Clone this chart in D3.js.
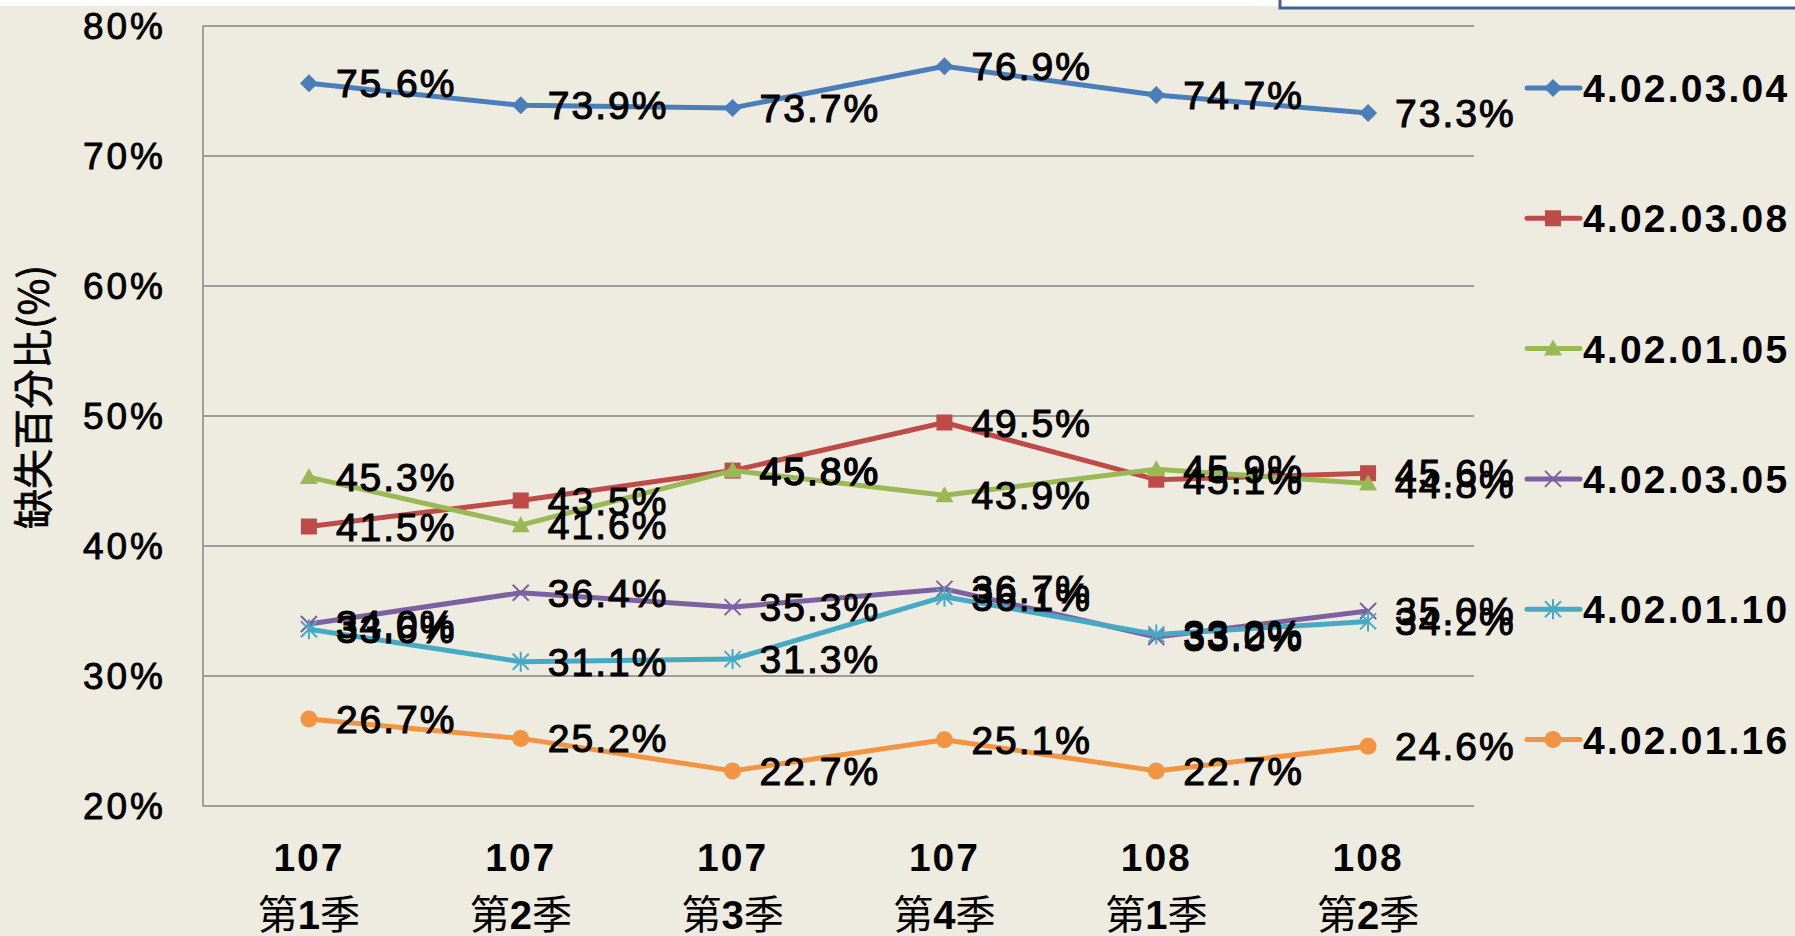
<!DOCTYPE html>
<html>
<head>
<meta charset="utf-8">
<script src="https://cdn.jsdelivr.net/npm/d3@7"></script>
<style>
  html, body { margin: 0; padding: 0; background: #fff; }
  svg { display: block; }
</style>
</head>
<body>
<div id="chart"></div>
<script>
// data
var quarters = [["107", "第", "1", "季"], ["107", "第", "2", "季"], ["107", "第", "3", "季"],
                ["107", "第", "4", "季"], ["108", "第", "1", "季"], ["108", "第", "2", "季"]];
var seriesNames = ["4.02.03.04", "4.02.03.08", "4.02.01.05", "4.02.03.05", "4.02.01.10", "4.02.01.16"];
var s0 = [75.6, 73.9, 73.7, 76.9, 74.7, 73.3];
var s1 = [41.5, 43.5, 45.8, 49.5, 45.1, 45.6];
var s2 = [45.3, 41.6, 45.8, 43.9, 45.9, 44.8];
var s3 = [34.0, 36.4, 35.3, 36.7, 33.0, 35.0];
var s4 = [33.6, 31.1, 31.3, 36.1, 33.2, 34.2];
var s5 = [26.7, 25.2, 22.7, 25.1, 22.7, 24.6];
var yTicks = [20, 30, 40, 50, 60, 70, 80];

(function(){

  var W = 1795, H = 936;
  var colors = ["#4A7EBB", "#BE4B48", "#98B954", "#7D60A0", "#46AAC5", "#F39443"];
  var shapes = ["diamond", "square", "triangle", "x", "star", "circle"];
  var allSeries = [s0, s1, s2, s3, s4, s5];
  var latin = "'Liberation Sans', Arial, sans-serif";
  var cjk = "'Noto Sans CJK TC', 'Noto Sans CJK SC', sans-serif";

  var svg = d3.select("#chart").append("svg")
      .attr("width", W).attr("height", H);

  svg.append("rect").attr("width", W).attr("height", H).attr("fill", "#fff");
  svg.append("rect").attr("x", 0).attr("y", 6).attr("width", W).attr("height", H - 6)
      .attr("fill", "#EEECE1");
  // box peeking in at the top right
  svg.append("rect").attr("x", 1280).attr("y", -10).attr("width", 600).attr("height", 18)
      .attr("fill", "#fff").attr("stroke", "#3E6397").attr("stroke-width", 3);

  var x = d3.scaleBand().domain(d3.range(quarters.length)).range([203, 1474]);
  var y = d3.scaleLinear().domain([20, 80]).range([806, 26]);
  var cx = function(i){ return x(i) + x.bandwidth() / 2; };

  // gridlines
  svg.append("g")
    .selectAll("line").data(yTicks).enter().append("line")
      .attr("x1", 203).attr("x2", 1474)
      .attr("y1", function(d){ return y(d); }).attr("y2", function(d){ return y(d); })
      .attr("stroke", "#A09E98").attr("stroke-width", 2);

  svg.append("line").attr("x1", 203).attr("x2", 203)
      .attr("y1", y(80)).attr("y2", y(20))
      .attr("stroke", "#A09E98").attr("stroke-width", 2);

  // y tick labels
  svg.append("g")
    .selectAll("text").data(yTicks).enter().append("text")
      .attr("x", 166).attr("y", function(d){ return y(d) + 13; })
      .attr("text-anchor", "end")
      .attr("font-family", latin).attr("font-size", "37px").attr("fill", "#000")
      .attr("letter-spacing", "3px")
      .attr("stroke", "#000").attr("stroke-width", 0.9)
      .text(function(d){ return d + "%"; });

  // y axis title
  svg.append("text")
      .attr("transform", "translate(48,397) rotate(-90)")
      .attr("text-anchor", "middle")
      .attr("font-family", cjk).attr("font-size", "40px").attr("fill", "#000")
      .attr("stroke", "#000").attr("stroke-width", 0.8)
      .text("缺失百分比(%)");

  // x labels
  var xl = svg.append("g").selectAll("g").data(quarters).enter().append("g");
  xl.append("text")
      .attr("x", function(d, i){ return cx(i); }).attr("y", 871)
      .attr("text-anchor", "middle")
      .attr("font-family", latin).attr("font-weight", "bold").attr("font-size", "39px")
      .attr("letter-spacing", "2px")
      .text(function(d){ return d[0]; });
  var t2 = xl.append("text")
      .attr("x", function(d, i){ return cx(i); }).attr("y", 929)
      .attr("text-anchor", "middle").attr("font-size", "40px");
  t2.append("tspan").attr("font-family", cjk).text(function(d){ return d[1]; });
  t2.append("tspan").attr("font-family", latin).attr("font-weight", "bold").text(function(d){ return d[2]; });
  t2.append("tspan").attr("font-family", cjk).text(function(d){ return d[3]; });

  function drawMarker(g, shape, color) {
    if (shape === "diamond") {
      g.append("path").attr("d", "M0,-9L9,0L0,9L-9,0Z").attr("fill", color);
    } else if (shape === "square") {
      g.append("rect").attr("x", -8).attr("y", -8).attr("width", 16).attr("height", 16).attr("fill", color);
    } else if (shape === "triangle") {
      g.append("path").attr("d", "M0,-9L9,7L-9,7Z").attr("fill", color);
    } else if (shape === "x") {
      g.append("path").attr("d", "M-8,-8L8,8M-8,8L8,-8").attr("stroke", color).attr("stroke-width", 2);
    } else if (shape === "star") {
      g.append("path").attr("d", "M-8,-8L8,8M-8,8L8,-8M0,-10L0,10")
        .attr("stroke", color).attr("stroke-width", 2);
    } else {
      g.append("circle").attr("r", 8.5).attr("fill", color);
    }
  }

  var line = d3.line().x(function(d, i){ return cx(i); }).y(function(d){ return y(d); });

  var plot = svg.append("g");
  allSeries.forEach(function(vals, k){
    plot.append("path").datum(vals)
      .attr("d", line).attr("fill", "none")
      .attr("stroke", colors[k]).attr("stroke-width", 5).attr("stroke-linejoin", "round");
    vals.forEach(function(v, i){
      var g = plot.append("g").attr("transform", "translate(" + cx(i) + "," + y(v) + ")");
      drawMarker(g, shapes[k], colors[k]);
    });
  });

  // data labels on top of everything
  var labels = svg.append("g");
  allSeries.forEach(function(vals){
    labels.selectAll(null).data(vals).enter().append("text")
      .attr("x", function(d, i){ return cx(i) + 27; })
      .attr("y", function(d){ return y(d) + 14; })
      .attr("font-family", latin).attr("font-size", "39px").attr("fill", "#000")
      .attr("letter-spacing", "2px")
      .attr("stroke", "#000").attr("stroke-width", 1.1)
      .text(function(d){ return d.toFixed(1) + "%"; });
  });

  // legend
  var leg = svg.append("g").selectAll("g").data(seriesNames).enter().append("g")
      .attr("transform", function(d, i){ return "translate(0," + (88 + i * 130.3) + ")"; });
  leg.append("line").attr("x1", 1527).attr("x2", 1580)
      .attr("stroke", function(d, i){ return colors[i]; })
      .attr("stroke-width", 5).attr("stroke-linecap", "round");
  leg.each(function(d, i){
    drawMarker(d3.select(this).append("g").attr("transform", "translate(1553,0)"), shapes[i], colors[i]);
  });
  leg.append("text").attr("x", 1583).attr("y", 14)
      .attr("font-family", latin).attr("font-weight", "bold").attr("font-size", "39px")
      .attr("letter-spacing", "2.2px")
      .text(function(d){ return d; });

})();
</script>
</body>
</html>
